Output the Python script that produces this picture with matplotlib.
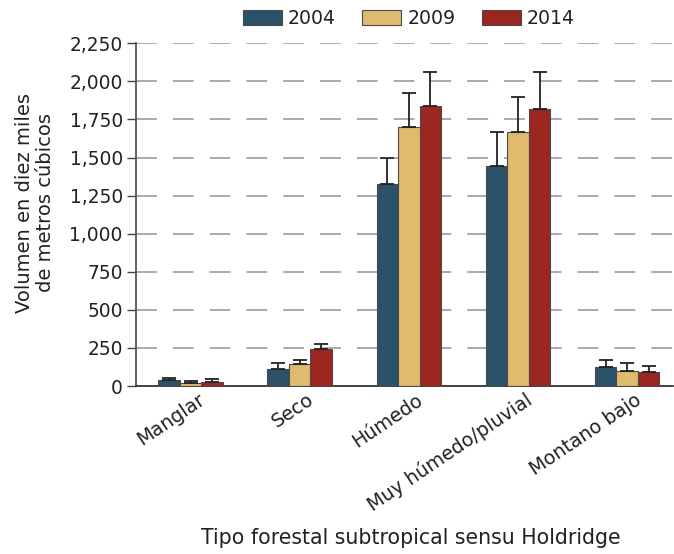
import matplotlib
matplotlib.use("Agg")
import matplotlib.pyplot as plt
import numpy as np
from matplotlib.patches import Patch
import matplotlib.transforms as mtransforms

plt.rcParams['font.family'] = ['DejaVu Sans']
plt.rcParams['lines.scale_dashes'] = False

categories = ["Manglar", "Seco", "Húmedo", "Muy húmedo/pluvial", "Montano bajo"]
years = ["2004", "2009", "2014"]
v2004 = [42, 112, 1325, 1446, 127]
v2009 = [22, 145, 1702, 1666, 96]
v2014 = [28, 240, 1838, 1820, 92]
e2004 = [12, 42, 172, 224, 44]
e2009 = [12, 27, 220, 234, 57]
e2014 = [20, 38, 222, 240, 42]
yticks = [0, 250, 500, 750, 1000, 1250, 1500, 1750, 2000, 2250]
colors = ["#2b5269", "#dfba6f", "#9c2620"]

fig = plt.figure(figsize=(6.74, 5.54), dpi=100)
ax = fig.add_axes([136/674, (554-386)/554, (673-136)/674, (386-43.3)/554])

x = np.arange(len(categories))
w = 0.197
for i, (vals, errs, col) in enumerate(zip([v2004, v2009, v2014], [e2004, e2009, e2014], colors)):
    pos = x + (i - 1) * w
    ax.bar(pos, vals, width=w, color=col, edgecolor="#4a4a4a", linewidth=0.8, zorder=3)
    ax.errorbar(pos, vals, yerr=[np.zeros(len(vals)), errs], fmt='none',
                ecolor="#222222", elinewidth=1.3, capsize=4.8, capthick=1.3, zorder=4)

ax.set_ylim(0, 2250)
ax.set_xlim(-0.5, 4.42)
ax.set_yticks(yticks)
ax.set_yticklabels([f"{t:,}" for t in yticks])
for t in yticks[1:]:
    ax.axhline(t, color="#aaaaaa", linewidth=1.4, dashes=(15, 11.5), zorder=1)

ax.set_xticks(x)
ax.set_xticklabels([])
ax.tick_params(axis='x', length=0)
offset = mtransforms.ScaledTranslation(7/100, -4/100, fig.dpi_scale_trans)
for xi, cat in zip(x, categories):
    ax.text(xi, 0, cat, transform=ax.get_xaxis_transform() + offset,
            rotation=34, rotation_mode='anchor', ha='right', va='top',
            fontsize=13.8, color="#222222")

ax.tick_params(axis='y', length=6.5, width=1, labelsize=13.4, colors="#444444", pad=3, direction='out')
for lab in ax.get_yticklabels():
    lab.set_color("#222222")
for s in ["top", "right"]:
    ax.spines[s].set_visible(False)
ax.spines["left"].set_color("#555555")
ax.spines["left"].set_linewidth(1.3)
ax.spines["bottom"].set_color("#333333")
ax.spines["bottom"].set_linewidth(1.3)

fig.text(35/674, 1 - 203/554, "Volumen en diez miles\nde metros cúbicos", rotation=90,
         ha='center', va='center', fontsize=14, color="#222222", linespacing=1.08)
fig.text(411/674, 1 - 538/554, "Tipo forestal subtropical sensu Holdridge",
         ha='center', va='center', fontsize=14.8, color="#222222")

handles = [Patch(facecolor=c, edgecolor="#4a4a4a", linewidth=0.8) for c in colors]
fig.legend(handles, years, loc='center', bbox_to_anchor=(409/674, 1 - 18.5/554), ncol=3,
           frameon=False, fontsize=13.6, handlelength=2.06, handleheight=0.8,
           handletextpad=0.32, columnspacing=1.4, borderpad=0, labelcolor="#222222")

fig.savefig("out.png", dpi=100)
